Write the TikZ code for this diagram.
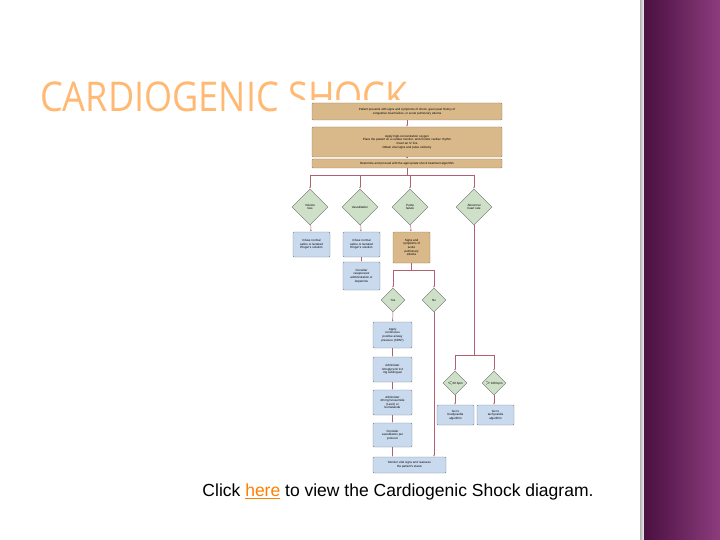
\documentclass[tikz,border=0pt]{standalone}
\usepackage{fontspec}
\setmainfont{Liberation Sans}
\newfontfamily\titlefont{Open Sans}
\usetikzlibrary{shapes.geometric,arrows.meta}
\definecolor{org}{HTML}{D9B98A}
\definecolor{blu}{HTML}{C9DAEE}
\definecolor{grn}{HTML}{CFE0C8}
\definecolor{ln}{HTML}{B06070}
\begin{document}
\begin{tikzpicture}[x=1pt,y=-1pt,
  t/.style={font=\fontsize{3}{3.6}\selectfont,align=center,inner sep=0.5pt},
  ob/.style={t,draw=org!70!black,fill=org,rounded corners=1pt},
  bb/.style={t,draw=blu!60!black,fill=blu,rounded corners=1pt},
  dm/.style={t,diamond,draw=grn!50!black,fill=grn,minimum width=36pt,minimum height=36pt,inner sep=0pt},
  ds/.style={dm,minimum width=24pt,minimum height=24pt},
  c/.style={draw=ln,line width=0.5pt},
  a/.style={c,-{Latex[length=2pt,width=1.6pt]}}]
\useasboundingbox (0,0) rectangle (720,540);
\fill[white] (0,0) rectangle (720,540);
\shade[left color=black!30!white, right color=black!5] (640,0) rectangle (644,540);
\shade[left color={rgb,255:red,74;green,16;blue,64}, right color={rgb,255:red,140;green,60;blue,125}] (644,0) rectangle (720,540);
\node[anchor=west,text=orange!55,inner sep=0pt,font=\titlefont\fontsize{41}{41}\selectfont] (title) at (40,97) {\scalebox{0.88}[1]{CARDIOGENIC SHOCK}};
\fill[white] (290,100) rectangle (515,476);
% boxes
\node[ob,minimum width=190pt,minimum height=17pt] (b1) at (407,111.5) {Patient presents with signs and symptoms of shock, given past history of\\congestive heart failure, or acute pulmonary edema};
\node[ob,minimum width=190pt,minimum height=30pt] (b2) at (407,142) {Apply high-concentration oxygen\\Place the patient on a cardiac monitor, and monitor cardiac rhythm\\Insert an IV line\\Obtain vital signs and pulse oximetry};
\node[ob,minimum width=190pt,minimum height=9pt] (b3) at (407,163.5) {Determine and proceed with the appropriate shock treatment algorithm};
\coordinate (h) at (407,175);
\node[dm] (d1) at (310,207) {Volume\\loss};
\node[dm] (d2) at (360,207) {Vasodilation};
\node[dm] (d3) at (410,207) {Pump\\failure};
\node[dm] (d4) at (474,207) {Abnormal\\heart rate};
\node[bb,minimum width=37pt,minimum height=25pt] (e1) at (311.5,244.5) {Infuse normal\\saline or lactated\\Ringer's solution};
\node[bb,minimum width=37pt,minimum height=25pt] (e2) at (361.5,244.5) {Infuse normal\\saline or lactated\\Ringer's solution};
\node[ob,minimum width=37pt,minimum height=31pt] (e3) at (411.5,247.5) {Signs and\\symptoms of\\acute\\pulmonary\\edema};
\node[bb,minimum width=37pt,minimum height=28pt] (e4) at (361.5,276) {Consider\\vasopressor\\administration or\\dopamine};
\node[ds] (y) at (393,300) {Yes};
\node[ds] (n) at (434,300) {No};
\node[bb,minimum width=39pt,minimum height=26pt] (f1) at (392.5,335) {Apply\\continuous\\positive airway\\pressure (CPAP)};
\node[bb,minimum width=39pt,minimum height=25pt] (f2) at (392.5,369.5) {Administer\\nitroglycerin 0.4\\mg sublingual};
\node[bb,minimum width=39pt,minimum height=25pt] (f3) at (392.5,402.5) {Administer\\40 mg furosemide\\(Lasix) or\\bumetanide};
\node[bb,minimum width=39pt,minimum height=24pt] (f4) at (392.5,435) {Consider\\vasodilators per\\protocol};
\node[bb,minimum width=73pt,minimum height=16pt] (f5) at (409.5,465) {Monitor vital signs and reassess\\the patient's status};
\node[ds] (g1) at (455,383) {$<$60 bpm};
\node[ds] (g2) at (494,383) {$>$100 bpm};
\node[bb,minimum width=37pt,minimum height=20pt] (k1) at (455.5,415) {Go to\\bradycardia\\algorithm};
\node[bb,minimum width=37pt,minimum height=20pt] (k2) at (495.5,415) {Go to\\tachycardia\\algorithm};
% connectors
\draw[a] (b1) -- (b2);
\draw[a] (b2) -- (b3);
\draw[c] (b3) -- (h);
\draw[c] (d1.north|-h) -- (d4.north|-h);
\foreach \d in {d1,d2,d3,d4} \draw[a] (\d.north|-h) -- (\d.north);
\draw[a] (d1) -- (e1);
\draw[a] (d2) -- (e2);
\draw[a] (d3) -- (e3);
\draw[a] (e2) -- (e4);
\draw[c] (e3.south) -- ++(0,7) coordinate (m);
\draw[c] (y.north|-m) -- (n.north|-m);
\draw[a] (y.north|-m) -- (y.north);
\draw[a] (n.north|-m) -- (n.north);
\draw[a] (y) -- (f1);
\draw[a] (f1) -- (f2);
\draw[a] (f2) -- (f3);
\draw[a] (f3) -- (f4);
\draw[a] (f4) -- (f5.north-|f4);
\draw[a] (n) -- (n|-f5.north);
\draw[c] (d4.south) -- (474,355) coordinate (r);
\draw[c] (g1.north|-r) -- (g2.north|-r);
\draw[a] (g1.north|-r) -- (g1.north);
\draw[a] (g2.north|-r) -- (g2.north);
\draw[a] (g1) -- (k1.north-|g1);
\draw[a] (g2) -- (k2.north-|g2);
\node[font=\fontsize{17.5}{20}\selectfont] (cap) at (398,492) {Click \textcolor{orange}{\underline{here}} to view the Cardiogenic Shock diagram.};
\end{tikzpicture}
\end{document}
